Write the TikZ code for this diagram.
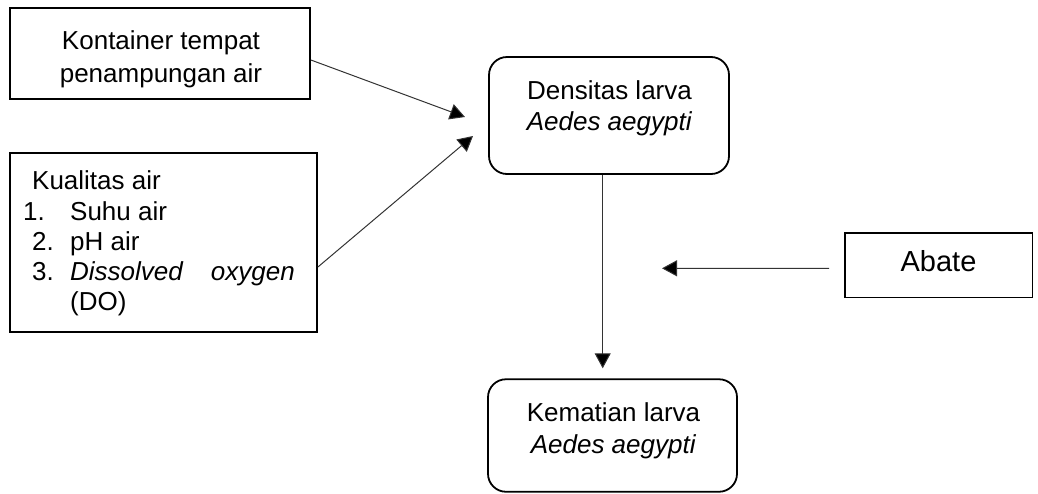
\documentclass[tikz,border=0pt]{standalone}
\usepackage{fontspec}
\setmainfont{Liberation Sans}
\usetikzlibrary{arrows.meta}
\begin{document}
\begin{tikzpicture}[x=1pt,y=-1pt,
  sqbox/.style={draw=black,line width=1.8pt,inner sep=0pt},
  rbox/.style={draw=black,line width=1.8pt,inner sep=0pt,rounded corners=18pt},
  txt/.style={inner sep=0pt,font=\fontsize{26}{30}\selectfont,anchor=base},
  txtl/.style={txt,anchor=base west},
  conn/.style={draw=black!80,line width=1pt,-{Triangle[length=15pt,width=16pt,fill=black]}}]
\useasboundingbox (0,0) rectangle (1038,493);
% Kontainer
\node[sqbox,minimum width=300pt,minimum height=91pt] (kont) at (160,53.5) {};
\node[txt] (kont1) at (161,49.5) {Kontainer tempat};
\node[txt] (kont2) at (161,82.5) {penampungan air};
% Kualitas air
\node[sqbox,minimum width=307pt,minimum height=179pt] (kual) at (163.5,242.5) {};
\node[txtl] (q0) at (32,189) {Kualitas air};
\node[txtl] (q1n) at (23,220) {1.};
\node[txtl] (q1) at (70,220) {Suhu air};
\node[txtl] (q2n) at (32,250.5) {2.};
\node[txtl] (q2) at (70,250.5) {pH air};
\node[txtl] (q3n) at (32,280) {3.};
\node[txtl] (q3a) at (70,280) {\textit{Dissolved}};
\node[txt,anchor=base east] (q3b) at (295,280) {\textit{oxygen}};
\node[txtl] (q3c) at (70,310) {(DO)};
% Densitas
\node[rbox,minimum width=240pt,minimum height=117pt] (dens) at (609,115.5) {};
\node[txt] (dens1) at (609.5,99.3) {Densitas larva};
\node[txt] (dens2) at (609.5,130.8) {\textit{Aedes aegypti}};
% Abate
\node[sqbox,minimum width=187.5pt,minimum height=64.5pt] (abate) at (938.75,265.25) {};
\node[txt,font=\fontsize{29}{34}\selectfont] (abatet) at (938.5,271.7) {Abate};
% Kematian
\node[rbox,minimum width=249pt,minimum height=112.5pt] (kem) at (612.5,435.5) {};
\node[txt] (kem1) at (613.5,421.7) {Kematian larva};
\node[txt] (kem2) at (613.5,453) {\textit{Aedes aegypti}};
% free ends
\coordinate (t1) at (465,117);
\coordinate (t2) at (473,136);
\coordinate (t3) at (662,268.3);
\coordinate (t4) at (602.7,368.3);
% connectors
\draw[conn] ([yshift=-6.5pt]kont.east) -- (t1);
\draw[conn] ([yshift=-24.5pt]kual.east) -- (t2);
\draw[conn] ([xshift=-15pt,yshift=-3pt]abate.west) -- (t3);
\draw[conn] (dens.south -| t4) -- (t4);
\end{tikzpicture}
\end{document}
